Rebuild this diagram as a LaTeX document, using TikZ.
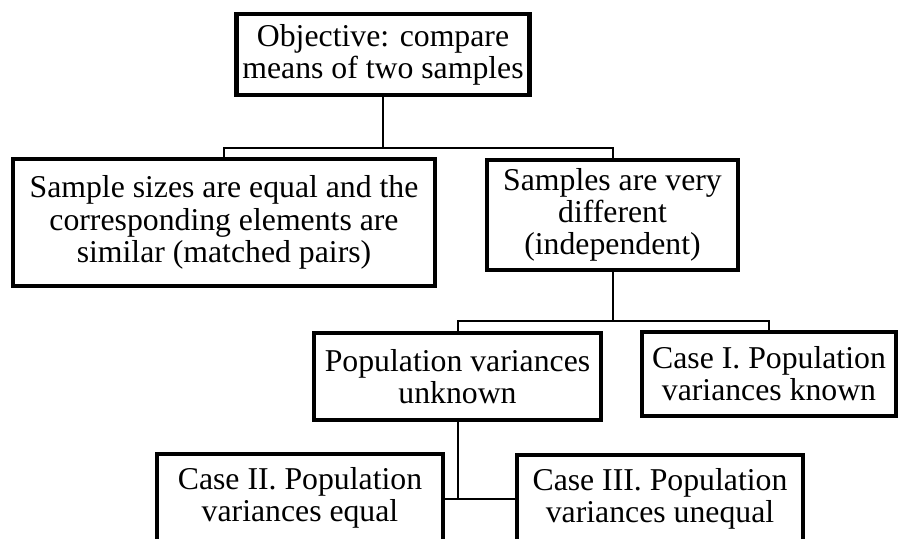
\documentclass[tikz,border=0pt]{standalone}
\usepackage{fontspec}
\setmainfont{Liberation Serif}
\begin{document}
\begin{tikzpicture}[
  x=0.4pt, y=-0.4pt,
  box/.style={draw, line width=1.7pt, fill=white, align=center, inner sep=2pt,
              font=\fontsize{12.7}{12.9}\selectfont},
  conn/.style={line width=0.8pt}
]
  \useasboundingbox (0,0) rectangle (899,539);
  \clip (0,0) rectangle (899,539);

  \node[box, minimum width=117.2pt, minimum height=32.4pt] (top) at (383,54.5)
    {Objective: compare\\means of two samples};
  \node[box, minimum width=168.8pt, minimum height=50.8pt] (match) at (224,222.5)
    {Sample sizes are equal and the\\corresponding elements are\\similar (matched pairs)};
  \node[box, minimum width=100.4pt, minimum height=44pt] (indep) at (612.5,215)
    {Samples are very\\different\\(independent)};
  \node[box, minimum width=114.8pt, minimum height=34.8pt] (unknown) at (457.5,376.5)
    {Population variances\\unknown};
  \node[box, minimum width=101.6pt, minimum height=33.6pt] (case1) at (769,374)
    {Case I. Population\\variances known};
  \node[box, minimum width=114.4pt, minimum height=35.2pt] (case2) at (300,498)
    {Case II. Population\\variances equal};
  \node[box, minimum width=114.4pt, minimum height=35.2pt] (case3) at (660,499)
    {Case III. Population\\variances unequal};

  \coordinate (j1) at (383,148);
  \coordinate (j2) at (612.5,321);
  \coordinate (j3) at (457.5,499);

  \draw[conn] (top) -- (j1);
  \draw[conn] (match.north) |- (j1) -| (indep.north);
  \draw[conn] (indep) -- (j2);
  \draw[conn] (unknown.north) |- (j2) -| (case1.north);
  \draw[conn] (unknown) -- (j3);
  \draw[conn] (case2.east |- j3) -- (case3.west |- j3);
\end{tikzpicture}
\end{document}
